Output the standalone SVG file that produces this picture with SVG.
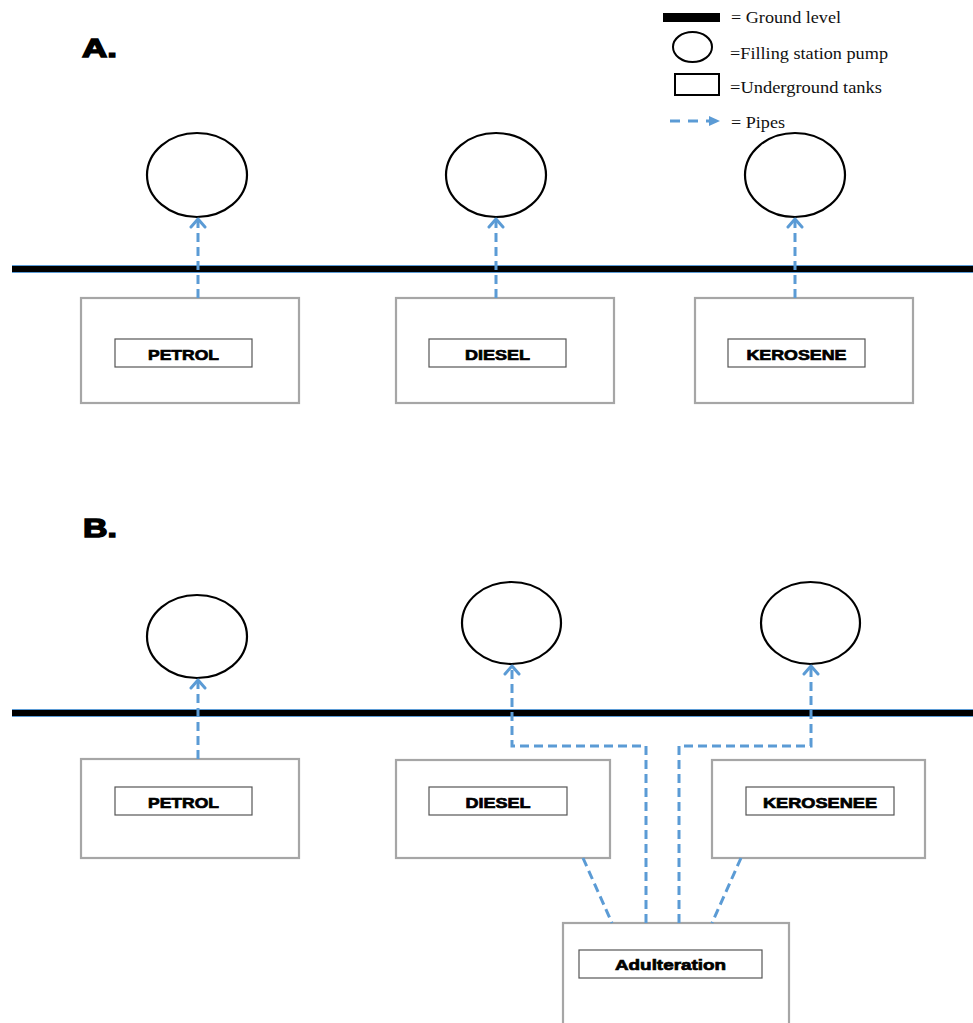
<svg xmlns="http://www.w3.org/2000/svg" width="973" height="1023" viewBox="0 0 973 1023">
<style>
.pump{fill:#fff;stroke:#000;stroke-width:2.2}
.tank{fill:#fff;stroke:#a6a6a6;stroke-width:2.2}
.lbl{fill:#fff;stroke:#555;stroke-width:1.2}
.lt{font-family:"Liberation Sans",Arial,sans-serif;font-weight:bold;font-size:15px;fill:#000;stroke:#000;stroke-width:0.7;text-anchor:middle}
.sec{font-family:"Liberation Sans",Arial,sans-serif;font-weight:bold;font-size:26px;fill:#000;stroke:#000;stroke-width:1.4}
.leg{font-family:"Liberation Serif","Times New Roman",serif;font-size:17px;fill:#111}
.pipe{fill:none;stroke:#5b9bd5;stroke-width:3;stroke-dasharray:9 5}
.arr{fill:none;stroke:#5b9bd5;stroke-width:3;stroke-dasharray:9 5;marker-end:url(#chev)}
</style>
<defs>
<marker id="chev" markerUnits="userSpaceOnUse" markerWidth="20" markerHeight="20" viewBox="-10 -10 20 20" refX="0" refY="0" orient="auto">
<path d="M-8,-7 L0,0 L-8,7" fill="none" stroke="#5b9bd5" stroke-width="3" stroke-linecap="round" stroke-linejoin="round"/>
</marker>
</defs>
<rect width="973" height="1023" fill="#fff"/>

<g id="legend">
<rect x="663" y="13" width="57" height="9" fill="#000"/>
<text class="leg" x="731" y="23" textLength="110" lengthAdjust="spacingAndGlyphs">= Ground level</text>
<ellipse cx="692.5" cy="47" rx="19.5" ry="15" fill="#fff" stroke="#000" stroke-width="2"/>
<text class="leg" x="730" y="59" textLength="158" lengthAdjust="spacingAndGlyphs">=Filling station pump</text>
<rect x="675" y="74" width="44" height="21" fill="#fff" stroke="#000" stroke-width="2"/>
<text class="leg" x="730" y="93" textLength="152" lengthAdjust="spacingAndGlyphs">=Underground tanks</text>
<line x1="670" y1="121" x2="709" y2="121" stroke="#5b9bd5" stroke-width="3" stroke-dasharray="10 8"/>
<polygon points="709,116 720,121 709,126" fill="#5b9bd5"/>
<text class="leg" x="731" y="128" textLength="54" lengthAdjust="spacingAndGlyphs">= Pipes</text>
</g>

<g id="title-a"><text class="sec" x="82" y="57" textLength="35" lengthAdjust="spacingAndGlyphs">A.</text></g>
<g id="title-b"><text class="sec" x="83" y="537" textLength="34" lengthAdjust="spacingAndGlyphs">B.</text></g>

<g id="ground-a">
<rect x="12" y="265" width="961" height="8" fill="#5b9bd5"/>
<rect x="12" y="266" width="961" height="6" fill="#000"/>
</g>
<g id="ground-b">
<rect x="12" y="709" width="961" height="8" fill="#5b9bd5"/>
<rect x="12" y="710" width="961" height="6" fill="#000"/>
</g>

<g id="pump-a-petrol"><ellipse class="pump" cx="197" cy="175" rx="50" ry="42"/></g>
<g id="pump-a-diesel"><ellipse class="pump" cx="496" cy="175" rx="50" ry="42"/></g>
<g id="pump-a-kerosene"><ellipse class="pump" cx="795" cy="175" rx="50" ry="42"/></g>

<g id="tank-a-petrol">
<rect class="tank" x="81" y="298" width="218" height="105"/>
<rect class="lbl" x="115" y="339" width="137" height="28"/>
<text class="lt" x="183.5" y="360" textLength="71" lengthAdjust="spacingAndGlyphs">PETROL</text>
</g>
<g id="tank-a-diesel">
<rect class="tank" x="396" y="298" width="218" height="105"/>
<rect class="lbl" x="429" y="339" width="137" height="28"/>
<text class="lt" x="497.5" y="360" textLength="65" lengthAdjust="spacingAndGlyphs">DIESEL</text>
</g>
<g id="tank-a-kerosene">
<rect class="tank" x="695" y="298" width="218" height="105"/>
<rect class="lbl" x="728" y="339" width="137" height="28"/>
<text class="lt" x="796.5" y="360" textLength="100" lengthAdjust="spacingAndGlyphs">KEROSENE</text>
</g>

<g id="pump-b-petrol"><ellipse class="pump" cx="197" cy="636.5" rx="50" ry="41.5"/></g>
<g id="pump-b-diesel"><ellipse class="pump" cx="511.5" cy="623" rx="49.5" ry="41"/></g>
<g id="pump-b-kerosene"><ellipse class="pump" cx="810.5" cy="623" rx="49.5" ry="41"/></g>

<g id="tank-b-petrol">
<rect class="tank" x="81" y="759" width="218" height="99"/>
<rect class="lbl" x="115" y="787" width="137" height="28"/>
<text class="lt" x="183.5" y="808" textLength="71" lengthAdjust="spacingAndGlyphs">PETROL</text>
</g>
<g id="tank-b-diesel">
<rect class="tank" x="396" y="760" width="214" height="98"/>
<rect class="lbl" x="429" y="787" width="138" height="28"/>
<text class="lt" x="498" y="808" textLength="65" lengthAdjust="spacingAndGlyphs">DIESEL</text>
</g>
<g id="tank-b-kerosene">
<rect class="tank" x="712" y="760" width="213" height="98"/>
<rect class="lbl" x="746" y="787" width="148" height="28"/>
<text class="lt" x="820" y="808" textLength="114" lengthAdjust="spacingAndGlyphs">KEROSENEE</text>
</g>
<g id="tank-b-adulteration">
<rect class="tank" x="563" y="923" width="226" height="110"/>
<rect class="lbl" x="579" y="950" width="183" height="28"/>
<text class="lt" x="670.5" y="970" textLength="111" lengthAdjust="spacingAndGlyphs">Adulteration</text>
</g>

<g id="connectors">
<path class="arr" d="M198,298 V219"/>
<path class="arr" d="M496,298 V219"/>
<path class="arr" d="M795,298 V219"/>
<path class="arr" d="M198,759 V680"/>
<path class="arr" d="M646,923 V746 H512 V666"/>
<path class="arr" d="M679,923 V746 H811 V666"/>
<path class="pipe" d="M583,858 L612,923"/>
<path class="pipe" d="M741,858 L712,923"/>
</g>
</svg>
